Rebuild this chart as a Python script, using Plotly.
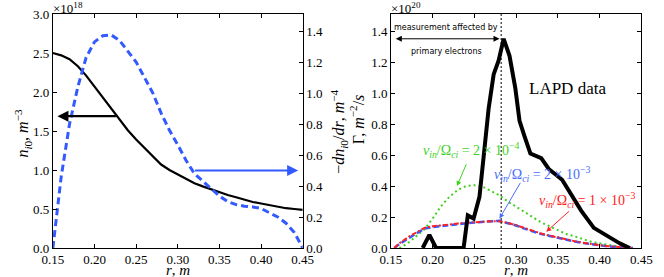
import plotly.graph_objects as go

# ---------------- data ----------------
r_left = [0.15, 0.16, 0.17, 0.18, 0.19, 0.20, 0.21, 0.22, 0.23, 0.24, 0.25,
          0.26, 0.27, 0.28, 0.29, 0.30, 0.31, 0.32, 0.33, 0.34, 0.35,
          0.36, 0.37, 0.38, 0.39, 0.40, 0.41, 0.42, 0.43, 0.44, 0.45]
density = [2.50, 2.47, 2.42, 2.33, 2.21, 2.07, 1.93, 1.78, 1.64, 1.51, 1.39,
           1.28, 1.17, 1.07, 1.00, 0.94, 0.88, 0.83, 0.79, 0.75, 0.72,
           0.68, 0.65, 0.62, 0.59, 0.57, 0.55, 0.53, 0.51, 0.50, 0.49]
gradient = [0.00, 0.46, 0.80, 1.04, 1.23, 1.33, 1.37, 1.375, 1.34, 1.27, 1.20,
            1.10, 1.00, 0.87, 0.76, 0.665, 0.565, 0.48, 0.43, 0.38, 0.335,
            0.30, 0.28, 0.27, 0.265, 0.255, 0.23, 0.20, 0.16, 0.10, 0.00]

r_lapd = [0.188, 0.196, 0.204, 0.237, 0.242, 0.249, 0.256, 0.262, 0.267, 0.273,
          0.279, 0.285, 0.292, 0.299, 0.304, 0.310, 0.317, 0.330, 0.339, 0.355,
          0.367, 0.378, 0.393, 0.409, 0.424, 0.436]
flux_lapd = [0.0, 0.085, 0.0, 0.0, 0.21, 0.19, 0.33, 0.62, 0.90, 1.12,
             1.21, 1.35, 1.24, 1.03, 0.82, 0.72, 0.61, 0.58, 0.51, 0.44,
             0.33, 0.24, 0.13, 0.075, 0.03, 0.0]

r_green = [0.16, 0.17, 0.18, 0.19, 0.20, 0.21, 0.22, 0.23, 0.24, 0.25, 0.26,
           0.27, 0.28, 0.29, 0.30, 0.31, 0.32, 0.33, 0.34, 0.35, 0.36,
           0.37, 0.38, 0.39, 0.40, 0.41, 0.42, 0.43, 0.44]
flux_nu2e4 = [0.0, 0.03, 0.075, 0.12, 0.19, 0.27, 0.33, 0.375, 0.40, 0.405, 0.395,
              0.37, 0.34, 0.30, 0.265, 0.23, 0.195, 0.165, 0.14, 0.115, 0.09,
              0.075, 0.055, 0.04, 0.03, 0.02, 0.012, 0.006, 0.0]

r_model = [0.154, 0.16, 0.17, 0.18, 0.19, 0.20, 0.21, 0.22, 0.23, 0.24, 0.25, 0.26,
           0.27, 0.28, 0.29, 0.30, 0.31, 0.32, 0.33, 0.34, 0.35, 0.36,
           0.37, 0.38, 0.39, 0.40, 0.41, 0.42, 0.43, 0.44]
flux_nu2e3 = [0.0, 0.025, 0.06, 0.095, 0.125, 0.135, 0.142, 0.148, 0.154, 0.160, 0.165, 0.170,
              0.174, 0.176, 0.160, 0.145, 0.125, 0.105, 0.090, 0.078, 0.065, 0.052,
              0.042, 0.032, 0.024, 0.017, 0.011, 0.006, 0.002, 0.0]
flux_nu1e3 = [0.0, 0.03, 0.068, 0.10, 0.13, 0.14, 0.147, 0.153, 0.158, 0.163, 0.167, 0.170,
              0.172, 0.172, 0.162, 0.147, 0.128, 0.108, 0.093, 0.080, 0.067, 0.054,
              0.044, 0.034, 0.025, 0.018, 0.012, 0.007, 0.003, 0.0]

r_limit = 0.282

x_ticks = [0.15, 0.20, 0.25, 0.30, 0.35, 0.40, 0.45]

BLUE = "#325aff"
GREEN = "#3fd11f"
RED = "#ff2020"
SERIF = "Liberation Serif"

fig = go.Figure()

# left panel
fig.add_trace(go.Scatter(x=r_left, y=density, mode="lines",
                         line=dict(color="black", width=2.2), xaxis="x", yaxis="y"))
fig.add_trace(go.Scatter(x=r_left, y=gradient, mode="lines",
                         line=dict(color=BLUE, width=3, dash="7px,4px"), xaxis="x", yaxis="y2"))

# right panel
fig.add_trace(go.Scatter(x=r_green, y=flux_nu2e4, mode="lines",
                         line=dict(color=GREEN, width=2, dash="2px,3px"), xaxis="x2", yaxis="y3"))
fig.add_trace(go.Scatter(x=r_model, y=flux_nu2e3, mode="lines",
                         line=dict(color=BLUE, width=2.5, dash="6px,3px"), xaxis="x2", yaxis="y3"))
fig.add_trace(go.Scatter(x=r_model, y=flux_nu1e3, mode="lines",
                         line=dict(color=RED, width=2, dash="5px,2px,2px,2px"), xaxis="x2", yaxis="y3"))
fig.add_trace(go.Scatter(x=r_lapd, y=flux_lapd, mode="lines",
                         line=dict(color="black", width=4), xaxis="x2", yaxis="y3"))

axis_common = dict(showgrid=False, zeroline=False, showline=True, linecolor="black",
                   linewidth=1, ticks="inside", ticklen=4, tickcolor="black",
                   tickfont=dict(family=SERIF, size=13, color="black"))

fig.update_layout(
    width=664, height=277,
    margin=dict(l=0, r=0, t=14, b=29),
    paper_bgcolor="white", plot_bgcolor="white",
    showlegend=False,
    xaxis=dict(domain=[43.3 / 664, 301.7 / 664], range=[0.15, 0.45],
               tickvals=x_ticks, tickformat=".2f", mirror="ticks", anchor="y",
               ticklabelstandoff=-1, **axis_common),
    yaxis=dict(domain=[0, 1], range=[0, 3.0], dtick=0.5, tick0=0, tickformat=".1f",
               anchor="x", **axis_common),
    yaxis2=dict(overlaying="y", side="right", range=[0, 1.51], dtick=0.2, tick0=0,
                tickformat=".1f", anchor="x", **axis_common),
    xaxis2=dict(domain=[393 / 664, 652 / 664], range=[0.15, 0.45],
                tickvals=x_ticks, tickformat=".2f", mirror="ticks", anchor="y3",
                ticklabelstandoff=-1, **axis_common),
    yaxis3=dict(domain=[0, 1], range=[0, 1.51], dtick=0.2, tick0=0, tickformat=".1f",
                mirror="ticks", anchor="x2", **axis_common),
)

fig.add_shape(type="line", xref="x2", yref="y3", x0=r_limit, x1=r_limit, y0=0, y1=1.51,
              line=dict(color="black", width=1, dash="2px,2px"))

C = dict(xanchor="center", yanchor="middle", showarrow=False)
ann = []
# axis labels
ann.append(dict(text="<i>r</i>, <i>m</i>", xref="paper", yref="paper",
                x=172.5 / 664, y=-21.5 / 234, font=dict(family=SERIF, size=15, color="black"), **C))
ann.append(dict(text="<i>r</i>, <i>m</i>", xref="paper", yref="paper",
                x=522.5 / 664, y=-21.5 / 234, font=dict(family=SERIF, size=15, color="black"), **C))
ann.append(dict(text="<i>n</i><sub><i>i</i>0</sub>, <i>m</i><sup>−3</sup>", xref="paper", yref="paper",
                x=12 / 664, y=(248 - 133) / 234, textangle=-90,
                font=dict(family=SERIF, size=16, color="black"), **C))
ann.append(dict(text="−<i>dn</i><sub><i>i</i>0</sub>/<i>dr</i>, <i>m</i><sup>−4</sup>", xref="paper", yref="paper",
                x=339 / 664, y=(248 - 132) / 234, textangle=-90,
                font=dict(family=SERIF, size=16, color="black"), **C))
ann.append(dict(text="Γ, <i>m</i><sup>−2</sup>/<i>s</i>", xref="paper", yref="paper",
                x=358 / 664, y=(248 - 120) / 234, textangle=-90,
                font=dict(family=SERIF, size=16, color="black"), **C))
# exponents
ann.append(dict(text="×10<sup>18</sup>", xref="paper", yref="paper", x=41 / 664, y=1.0,
                xanchor="left", yanchor="bottom", yshift=-4, showarrow=False,
                font=dict(family=SERIF, size=13, color="black")))
ann.append(dict(text="×10<sup>20</sup>", xref="paper", yref="paper", x=391 / 664, y=1.0,
                xanchor="left", yanchor="bottom", yshift=-4, showarrow=False,
                font=dict(family=SERIF, size=13, color="black")))
# left panel arrows
ann.append(dict(text="", xref="x", yref="y", axref="x", ayref="y",
                x=0.1555, y=1.69, ax=0.2275, ay=1.69, showarrow=True,
                arrowhead=2, arrowsize=1, arrowwidth=2.2, arrowcolor="black"))
ann.append(dict(text="", xref="x", yref="y2", axref="x", ayref="y2",
                x=0.4445, y=0.50, ax=0.319, ay=0.50, showarrow=True,
                arrowhead=2, arrowsize=1, arrowwidth=2.2, arrowcolor=BLUE))
# right panel annotations
ann.append(dict(text="", xref="x2", yref="y3", axref="x2", ayref="y3",
                x=0.280, y=1.35, ax=0.154, ay=1.35, showarrow=True, arrowside="end+start",
                arrowhead=2, arrowsize=1.2, arrowwidth=1, arrowcolor="black"))
ann.append(dict(text="measurement affected by", xref="x2", yref="y3", x=0.216, y=1.42,
                font=dict(family="DejaVu Sans", size=8, color="black"), **C))
ann.append(dict(text="primary electrons", xref="x2", yref="y3", x=0.216, y=1.27,
                font=dict(family="DejaVu Sans", size=8, color="black"), **C))
ann.append(dict(text="LAPD data", xref="x2", yref="y3", x=0.362, y=1.03,
                font=dict(family=SERIF, size=17, color="black"), **C))

nu_lbl = "<i>ν</i><sub><i>in</i></sub>/Ω<sub><i>ci</i></sub> = {} × 10<sup>−{}</sup>"
ann.append(dict(text=nu_lbl.format(2, 4), xref="x2", yref="y3", x=0.247, y=0.63,
                font=dict(family=SERIF, size=14, color=GREEN), **C))
ann.append(dict(text="", xref="x2", yref="y3", axref="x2", ayref="y3",
                x=0.229, y=0.40, ax=0.241, ay=0.55, showarrow=True,
                arrowhead=2, arrowsize=1, arrowwidth=1, arrowcolor=GREEN))
ann.append(dict(text=nu_lbl.format(2, 3), xref="x2", yref="y3", x=0.332, y=0.48,
                font=dict(family=SERIF, size=14, color="#4a6cff"), **C))
ann.append(dict(text="", xref="x2", yref="y3", axref="x2", ayref="y3",
                x=0.280, y=0.19, ax=0.306, ay=0.43, showarrow=True,
                arrowhead=2, arrowsize=1, arrowwidth=1, arrowcolor="#4a6cff"))
ann.append(dict(text=nu_lbl.format(1, 3), xref="x2", yref="y3", x=0.386, y=0.31,
                font=dict(family=SERIF, size=14, color=RED), **C))
ann.append(dict(text="", xref="x2", yref="y3", axref="x2", ayref="y3",
                x=0.336, y=0.105, ax=0.365, ay=0.245, showarrow=True,
                arrowhead=2, arrowsize=1, arrowwidth=1, arrowcolor=RED))

fig.update_layout(annotations=ann)

fig.write_html("out.html", config={"displayModeBar": False},
               post_script="document.body.style.margin='0px';document.body.style.overflow='hidden';")
